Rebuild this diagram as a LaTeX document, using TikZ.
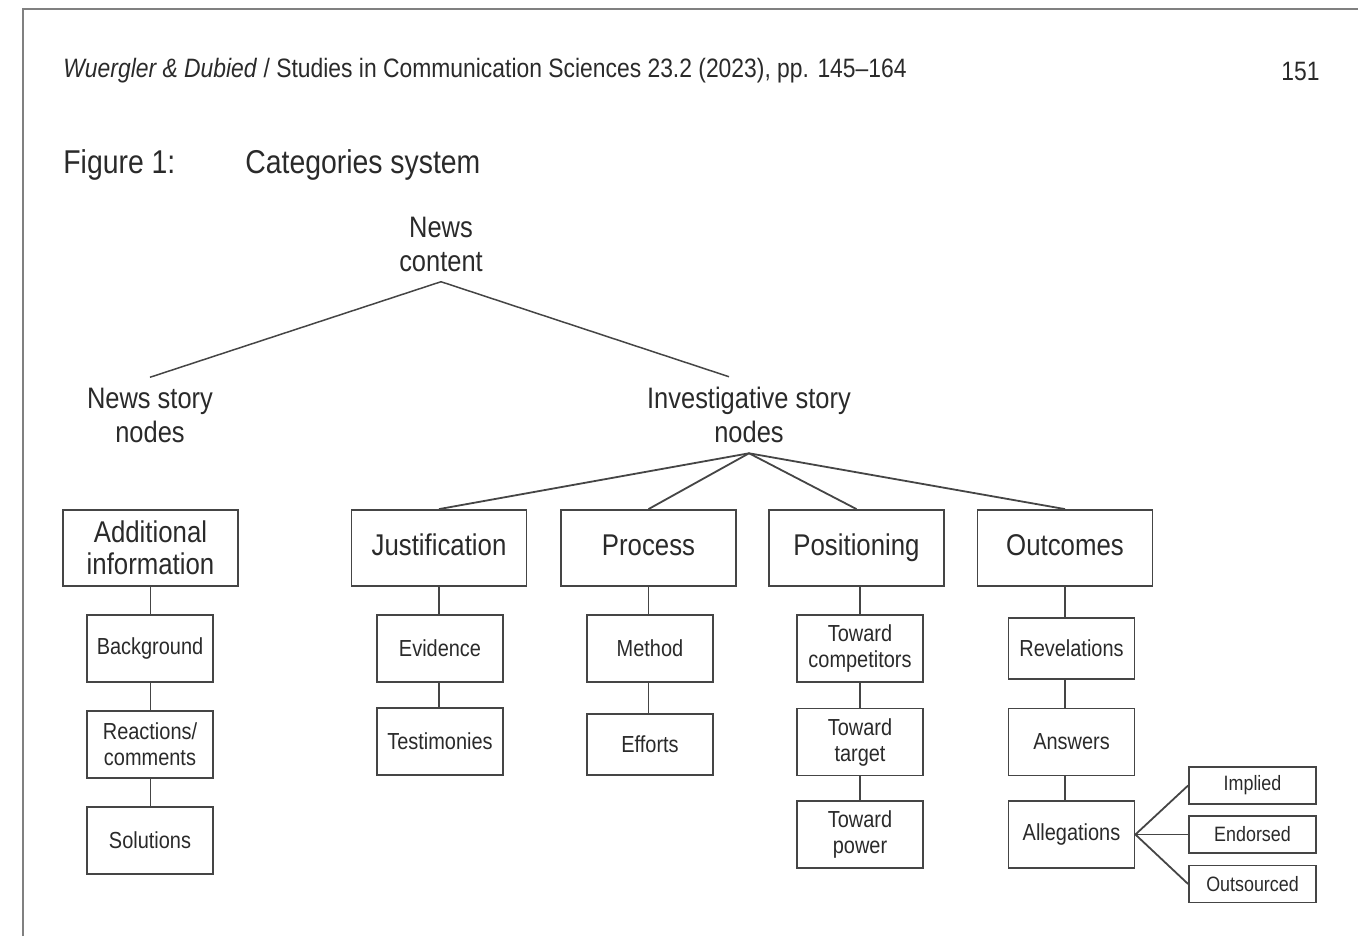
\documentclass[tikz,border=0pt]{standalone}
\usepackage{fontspec}
\setmainfont{Liberation Sans}[FakeStretch=0.86]
\usepackage{xcolor}
\usepackage{tikz}
\definecolor{ink}{HTML}{2A2A2A}
\definecolor{rule}{HTML}{454545}
\definecolor{frame}{HTML}{808080}

\begin{document}
\begin{tikzpicture}[x=0.5pt,y=-0.5pt,
		every node/.style={text=ink,align=center},
		label/.style={font=\fontsize{14.8}{17}\selectfont,inner sep=5pt},
		mainbox/.style={draw=rule,line width=0.9pt,font=\fontsize{15}{16}\selectfont,minimum width=87.5pt,minimum height=38pt,inner sep=1pt},
		oneline/.style={text height=10.9pt,text depth=3.2pt},
		subbox/.style={draw=rule,line width=0.9pt,font=\fontsize{11.6}{13}\selectfont,minimum width=63pt,minimum height=33.5pt,inner sep=1pt},
		tinybox/.style={draw=rule,line width=0.9pt,font=\fontsize{10.4}{11}\selectfont,minimum width=63.5pt,minimum height=18.5pt,inner sep=1pt},
		link/.style={draw=rule,line width=0.9pt}]
		\useasboundingbox (0,0) rectangle (1358,936);
		\draw [frame,line width=0.8pt] (23,936) -- (23,9) -- (1358,9);
		% header
		\node [anchor=west,inner sep=0pt,font=\fontsize{13.3}{15}\selectfont] (runhead) at (63,71) {\textit{Wuergler \& Dubied} / Studies in Communication Sciences 23.2 (2023), pp. 145--164};
		\node [anchor=east,inner sep=0pt,font=\fontsize{13.3}{15}\selectfont] (pageno) at (1320,71) {151};
		\node [anchor=west,inner sep=0pt,font=\fontsize{16.5}{18}\selectfont] (figno) at (63,165) {Figure 1:};
		\node [anchor=west,inner sep=0pt,font=\fontsize{16.5}{18}\selectfont] (figtitle) at (245,165) {Categories system};
		% upper tree
		\node [label] (newscontent) at (441,244) {News\\content};
		\node [label] (storynodes) at (150,415) {News story\\nodes};
		\node [label] (invnodes) at (749,415) {Investigative story\\nodes};
		\draw [link,line width=0.75pt] (newscontent.south) -- (storynodes.north);
		\draw [link,line width=0.75pt] (newscontent.south) -- ([xshift=-10pt]invnodes.north);
		% categories
		\node [mainbox] (addinfo) at (150.5,548) {Additional\\information};
		\node [mainbox,oneline] (justif) at (439,548) {Justification};
		\node [mainbox,oneline] (process) at (648.5,548) {Process};
		\node [mainbox,oneline] (position) at (856.5,548) {Positioning};
		\node [mainbox,oneline] (outcomes) at (1065,548) {Outcomes};
		\foreach \c in {justif,process,position,outcomes}
			\draw [link] (invnodes.south) -- (\c.north);
		% subcategories
		\node [subbox] (background) at (150,648.5) {Background};
		\node [subbox] (reactions) at (150,744.5) {Reactions/\\comments};
		\node [subbox] (solutions) at (150,840.5) {Solutions};
		\node [subbox] (evidence) at (440,648.5) {Evidence};
		\node [subbox] (testimonies) at (440,741.5) {Testimonies};
		\node [subbox] (method) at (650,648.5) {Method};
		\node [subbox,minimum height=30.5pt] (efforts) at (650,744.5) {Efforts};
		\node [subbox] (competitors) at (860,648.5) {Toward\\competitors};
		\node [subbox] (target) at (860,742) {Toward\\target};
		\node [subbox] (power) at (860,834.5) {Toward\\power};
		\node [subbox,minimum height=30.5pt] (revelations) at (1071.5,648.5) {Revelations};
		\node [subbox] (answers) at (1071.5,742) {Answers};
		\node [subbox] (allegations) at (1071.5,834.5) {Allegations};
		\node [tinybox] (implied) at (1252.5,785.5) {Implied};
		\node [tinybox] (endorsed) at (1252.5,834.5) {Endorsed};
		\node [tinybox] (outsourced) at (1252.5,884) {Outsourced};
		\draw [link] (addinfo.south) -- (addinfo.south |- background.north);
		\draw [link] (background.south -| addinfo.south) -- (addinfo.south |- reactions.north);
		\draw [link] (reactions.south -| addinfo.south) -- (addinfo.south |- solutions.north);
		\draw [link] (justif.south) -- (justif.south |- evidence.north);
		\draw [link] (evidence.south -| justif.south) -- (justif.south |- testimonies.north);
		\draw [link] (process.south) -- (process.south |- method.north);
		\draw [link] (method.south -| process.south) -- (process.south |- efforts.north);
		\draw [link] (competitors.north |- position.south) -- (competitors.north);
		\draw [link] (competitors) -- (target) -- (power);
		\draw [link] (outcomes.south) -- (outcomes.south |- revelations.north);
		\draw [link] (revelations.south -| outcomes.south) -- (outcomes.south |- answers.north);
		\draw [link] (answers.south -| outcomes.south) -- (outcomes.south |- allegations.north);
		\foreach \t in {implied,endorsed,outsourced}
			\draw [link] (allegations.east) -- (\t.west);
	\end{tikzpicture}
\end{document}
